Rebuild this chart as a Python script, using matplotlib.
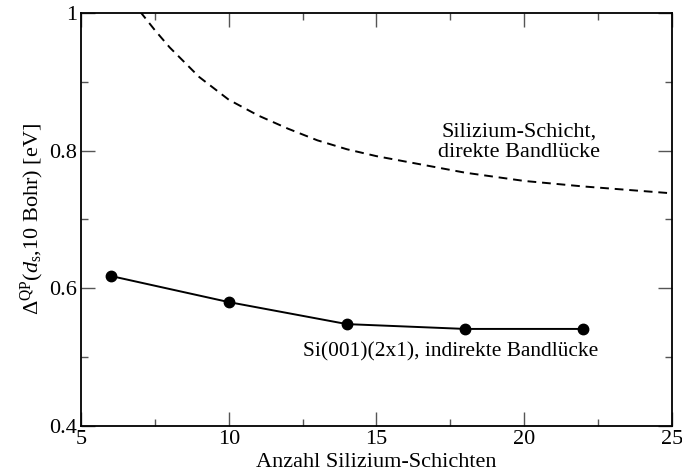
import matplotlib
matplotlib.use("Agg")
import matplotlib.pyplot as plt
from matplotlib.ticker import MultipleLocator

plt.rcParams['font.family'] = ['Liberation Serif', 'DejaVu Serif']
plt.rcParams['mathtext.fontset'] = 'custom'
plt.rcParams['mathtext.rm'] = 'Liberation Serif'
plt.rcParams['mathtext.it'] = 'Liberation Serif:italic'

# Data
layers = [6, 10, 14, 18, 22]
gap_indirect = [0.618, 0.580, 0.548, 0.541, 0.541]

slab_x = [7.0, 7.5, 8.0, 9.0, 10.0, 11.0, 12.0, 13.0, 14.0, 15.0, 16.0, 17.0, 18.0, 20.0, 22.0, 25.0]
slab_gap = [1.002, 0.975, 0.950, 0.907, 0.874, 0.851, 0.832, 0.815, 0.802, 0.792, 0.784, 0.776, 0.768, 0.756, 0.748, 0.738]

xticks = [5, 10, 15, 20, 25]
yticks = [0.4, 0.6, 0.8, 1.0]
ytick_labels = ['0.4', '0.6', '0.8', '1']

fig = plt.figure(figsize=(6.82, 4.74), dpi=100)
ax = fig.add_axes([0.1188, 0.1013, 0.8665, 0.8713])

ax.plot(slab_x, slab_gap, color='black', lw=1.4, dashes=[4.5, 3.0])
ax.plot(layers, gap_indirect, color='black', lw=1.4, marker='o', markersize=7.5)

ax.set_xlim(5, 25)
ax.set_ylim(0.4, 1.0)
ax.set_xticks(xticks)
ax.set_xticklabels([str(t) for t in xticks])
ax.set_yticks(yticks)
ax.set_yticklabels(ytick_labels)
ax.xaxis.set_minor_locator(MultipleLocator(2.5))
ax.yaxis.set_minor_locator(MultipleLocator(0.1))
ax.tick_params(which='both', direction='in', top=True, right=True, labelsize=16, width=1.0, color='#555555')
ax.tick_params(which='major', length=10, pad=3)
ax.tick_params(which='minor', length=5)
for s in ax.spines.values():
    s.set_linewidth(1.3)

ax.set_xlabel('Anzahl Silizium-Schichten', fontsize=16, labelpad=3)
ax.set_ylabel(r'$\Delta^{\mathrm{QP}}(d_{\mathrm{s}}$,10 Bohr) [eV]', fontsize=16, labelpad=2)

ax.text(19.83, 0.812, 'Silizium-Schicht,\ndirekte Bandlücke', ha='center', va='center',
        fontsize=16, linespacing=1.1)
ax.text(17.5, 0.507, 'Si(001)(2x1), indirekte Bandlücke', ha='center', va='center', fontsize=15.4)

fig.savefig('out.png', dpi=100)
